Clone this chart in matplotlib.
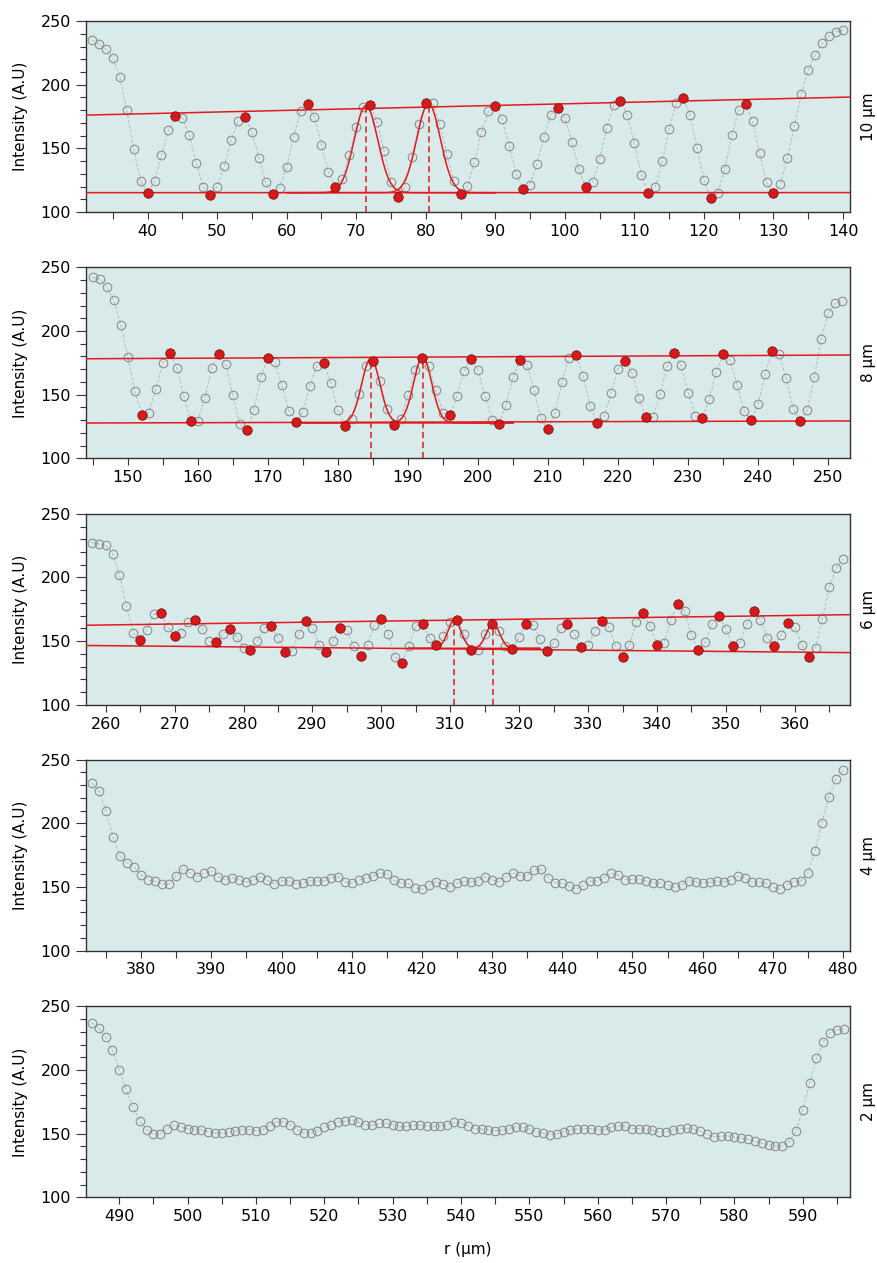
import numpy as np
import matplotlib.pyplot as plt
from matplotlib.ticker import MultipleLocator

plt.rcParams['font.family'] = ['DejaVu Sans']

# ---- data (r in um, intensity in A.U) ----
r1 = np.arange(32, 141)
i1 = [235, 231.8, 228.2, 221, 206.3, 180.3, 149.5, 124.2, 114.7, 124.2,
      144.7, 164.5, 175.5, 174, 160.5, 138.7, 120, 113.2, 120, 136,
      156.3, 171.3, 174.8, 162.9, 142.4, 123.4, 114.2, 119.2, 135.3, 159,
      179.2, 184.5, 174.5, 152.9, 131.3, 120, 126, 145, 167.1, 182.4,
      184, 171, 147.6, 124, 112.1, 119.7, 143.2, 169.2, 185.5, 185.3,
      169.5, 145.5, 124.7, 114.5, 120.3, 139.7, 162.6, 179.2, 183.2, 172.9,
      152.1, 130, 118.4, 121.6, 137.9, 159.2, 176.6, 182.1, 174, 155.3,
      133.7, 120, 123.4, 141.6, 165.8, 184, 187.6, 176.3, 154, 129.5,
      115, 119.5, 140, 165.5, 185.3, 189.5, 176, 150.5, 125, 111,
      115, 134.2, 160.3, 180.5, 184.7, 171.3, 146, 123.4, 114.8, 121.8,
      142.4, 167.9, 192.6, 211.6, 223.7, 232.4, 238.2, 241.8, 242.9]
max1 = [44, 54, 63, 72, 80, 90, 99, 108, 117, 126]
min1 = [40, 49, 58, 67, 76, 85, 94, 103, 112, 121, 130]

r2 = np.arange(145, 253)
i2 = [242.1, 240.8, 234.7, 224, 205.1, 179.9, 152.8, 134.3, 135.8, 154.4,
      174.9, 183.1, 171.3, 148.9, 129, 129.5, 147.3, 171, 182, 174.1,
      149.7, 126.9, 122.1, 137.9, 163.6, 179.1, 175.4, 157.6, 137.4, 128.4,
      136.6, 156.8, 172.5, 174.9, 159.4, 137.6, 125.3, 131.1, 150.8, 172.3,
      176.2, 161, 139, 126.4, 131.1, 149.7, 169.1, 178.8, 172.3, 153.4,
      135.5, 134.3, 149.2, 168.3, 177.8, 169.4, 148.9, 130.3, 126.9, 141.6,
      163.9, 177.6, 173.6, 153.6, 131.3, 122.7, 135.5, 160.2, 179.1, 181.2,
      164.6, 141.3, 128, 133.1, 151.6, 170.2, 176.5, 166.8, 147.6, 132.1,
      132.4, 150.5, 172.3, 182.8, 173.1, 151.3, 133.5, 131.3, 146.3, 168.1,
      181.7, 177.3, 157.3, 136.9, 130.3, 142.6, 166.5, 184.6, 182, 162.8,
      139, 129, 137.9, 163.9, 193.8, 214, 221.9, 223.7]
max2 = [156, 163, 170, 178, 185, 192, 199, 206, 214, 221, 228, 235, 242]
min2 = [152, 159, 167, 174, 181, 188, 196, 203, 210, 217, 224, 232, 239, 246]

r3 = np.arange(258, 368)
i3 = [227.4, 226.4, 225.4, 218.8, 202, 177.9, 156.4, 150.6, 159, 171.3,
      171.9, 161.1, 154, 156.6, 165, 166.6, 159.3, 149.8, 149.1, 155.8,
      159.3, 153.5, 144.8, 142.8, 150.1, 160.6, 162.1, 152.7, 141.7, 142.5,
      155.6, 165.6, 160.6, 146.9, 141.7, 150.3, 160.3, 158.7, 146.4, 138.5,
      147.2, 162.9, 167.4, 155.3, 137.7, 133, 146.1, 162.1, 163.5, 152.7,
      147.2, 154.2, 165.3, 166.6, 155.6, 143, 143, 155.6, 163.7, 158.2,
      146.4, 144, 153.2, 163.7, 162.7, 151.7, 142.5, 148.7, 160, 163.7,
      155.6, 145.1, 146.7, 158, 166.1, 160.8, 145.9, 137.5, 146.7, 165.3,
      172.3, 161.6, 147.2, 148.7, 166.4, 179.4, 173.4, 154.8, 142.8, 149.1,
      163.7, 170, 159.8, 145.9, 148.3, 163.2, 173.9, 166.6, 152.7, 146.4,
      154.8, 164.2, 161.3, 146.7, 137.5, 144.8, 167.6, 192.3, 207.3, 214.6]
max3 = [268, 273, 278, 284, 289, 294, 300, 306, 311, 316, 321, 327, 332,
        338, 343, 349, 354, 359]
min3 = [265, 270, 276, 281, 286, 292, 297, 303, 308, 313, 319, 324, 329,
        335, 340, 346, 351, 357, 362]

r4 = np.arange(373, 481)
i4 = [231.6, 225.3, 210, 189, 174.2, 169, 165.8, 159.5, 155.6, 154.5,
      152.4, 152.4, 159, 164.5, 161.1, 158, 161.1, 162.9, 158.2, 155.6,
      157.4, 155.8, 153.7, 155.6, 158.2, 155.3, 152.4, 154.8, 155, 152.7,
      153, 155, 154.8, 154.8, 157.4, 158.2, 154.2, 153, 155.3, 157.1,
      158.4, 161.3, 160.3, 155.3, 153, 153, 149.5, 148.2, 151.6, 154.2,
      152.1, 150, 153, 154.8, 153.7, 154.8, 158, 155.8, 153.9, 158,
      161.1, 159, 159, 163.7, 163.9, 157.4, 153.4, 153.2, 150.5, 148.2,
      151.4, 154.5, 155, 157.4, 160.8, 159.2, 155.8, 156, 156.3, 154.8,
      153.2, 153.2, 151.9, 149.8, 151.9, 155, 154.2, 152.9, 153.7, 154.8,
      153.7, 155.6, 158.4, 157.1, 153.9, 153.9, 152.9, 150, 148.2, 151.6,
      154.2, 154.8, 161.1, 178.2, 200.6, 220.8, 234.8, 241.6]

r5 = np.arange(486, 597)
i5 = [237.2, 233, 226.2, 215.4, 200.2, 184.7, 170.8, 160.3, 153.2, 149.8,
      150, 153.8, 156.7, 155.4, 153.8, 153.2, 153, 151.6, 150.6, 150.6,
      151.1, 152.1, 153.2, 153.2, 152.4, 153.2, 156.4, 159.3, 159.5, 157.2,
      153, 150.6, 150.6, 152.4, 155.1, 157.2, 159, 159.8, 161.1, 159,
      157, 156.7, 158, 158.3, 157.2, 155.7, 155.7, 156.7, 157, 156.2,
      155.9, 156.2, 157, 158.8, 158.3, 156.4, 154, 153.5, 153.2, 152.4,
      152.7, 154, 155.4, 155.4, 153.8, 151.6, 150.6, 149.3, 149.8, 151.6,
      152.7, 153.8, 154, 154, 153.2, 153, 155.1, 156.4, 155.7, 154,
      154, 153.8, 152.7, 151.1, 151.6, 153.2, 154, 154.3, 153.8, 151.9,
      149.6, 147.5, 148, 148.3, 147.5, 146.4, 145.6, 144.1, 142.5, 141.4,
      140.4, 140.4, 143.8, 152.1, 168.7, 189.7, 209.4, 222.2, 229.3, 231.7, 232.5]

# gaussian fits of two neighbouring peaks: centre, peak value
g_centre1 = [71.4, 80.4]
g_peak1 = [183.5, 185.0]
g_base1, g_sigma1, g_span1 = 115.2, 1.7, (60, 90)

g_centre2 = [184.7, 192.1]
g_peak2 = [178.5, 179.5]
g_base2, g_sigma2, g_span2 = 127.8, 1.3, (175, 205)

g_centre3 = [310.6, 316.2]
g_peak3 = [166.5, 164.0]
g_base3, g_sigma3, g_span3 = 144.3, 0.95, (304, 323)

labels = ['10 µm', '8 µm', '6 µm', '4 µm', '2 µm']
xlims = [(31.1, 141.0), (144.0, 253.1), (257.1, 368.0), (372.1, 481.0), (485.1, 596.9)]

BG = '#d9eaea'
RED = '#e31a1c'

fig = plt.figure(figsize=(8.78, 12.63), dpi=100)
left, width, height = 0.0976, 0.8705, 0.1512
bottoms = [0.8321, 0.6371, 0.4420, 0.2473, 0.0520]


def draw(ax, r, y, xlim, lab, maxr=None, minr=None, gauss=None):
    y = np.array(y, dtype=float)
    ax.set_facecolor(BG)
    ax.plot(r, y, ls=(0, (3, 2)), color='#b8b8b8', lw=0.7, zorder=2)
    ax.plot(r, y, 'o', ms=6.2, mfc='none', mec='#8a8a8a', mew=0.75, zorder=3)

    if maxr is not None:
        for sel in (maxr, minr):
            idx = np.searchsorted(r, sel)
            ax.plot(r[idx], y[idx], 'o', ms=6.8, mfc='#d7191c', mec='#7a1010',
                    mew=0.5, zorder=5)
            k, b = np.polyfit(r[idx], y[idx], 1)
            xx = np.array(xlim)
            ax.plot(xx, k * xx + b, color=RED, lw=1.1, zorder=4)

    if gauss is not None:
        centres, peaks, base, sig, span = gauss
        xx = np.linspace(span[0], span[1], 400)
        for c, p in zip(centres, peaks):
            ax.plot(xx, base + (p - base) * np.exp(-(xx - c) ** 2 / (2 * sig ** 2)),
                    color=RED, lw=1.1, zorder=4)
            ax.vlines(c, 100, p, colors=RED, linestyles=(0, (4, 2.5)), lw=1.1, zorder=4)

    ax.set_xlim(*xlim)
    ax.set_ylim(100, 250)
    ax.xaxis.set_major_locator(MultipleLocator(10))
    ax.xaxis.set_minor_locator(MultipleLocator(5))
    ax.yaxis.set_major_locator(MultipleLocator(50))
    ax.yaxis.set_minor_locator(MultipleLocator(10))
    ax.tick_params(axis='x', which='both', length=5, width=0.8, labelsize=11.5, color='#333333')
    ax.tick_params(axis='y', which='major', length=7, width=0.8, labelsize=11.5, color='#333333')
    ax.tick_params(axis='y', which='minor', length=4, width=0.8, color='#333333')
    for s in ax.spines.values():
        s.set_color('#333333')
        s.set_linewidth(1.0)
    ax.text(1.024, 0.5, lab, transform=ax.transAxes, rotation=90,
            ha='center', va='center', fontsize=11)


series = [(r1, i1, (max1, min1), (g_centre1, g_peak1, g_base1, g_sigma1, g_span1)),
          (r2, i2, (max2, min2), (g_centre2, g_peak2, g_base2, g_sigma2, g_span2)),
          (r3, i3, (max3, min3), (g_centre3, g_peak3, g_base3, g_sigma3, g_span3)),
          (r4, i4, (None, None), None),
          (r5, i5, (None, None), None)]

for k, (r, y, ext, g) in enumerate(series):
    ax = fig.add_axes([left, bottoms[k], width, height])
    draw(ax, r, y, xlims[k], labels[k], ext[0], ext[1], g)
    fig.text(0.023, bottoms[k] + height / 2, 'Intensity (A.U)', rotation=90,
             ha='center', va='center', fontsize=11)

fig.text(left + width / 2, 0.0103, 'r (µm)', ha='center', va='center', fontsize=11)

fig.savefig('out.png', dpi=100)
